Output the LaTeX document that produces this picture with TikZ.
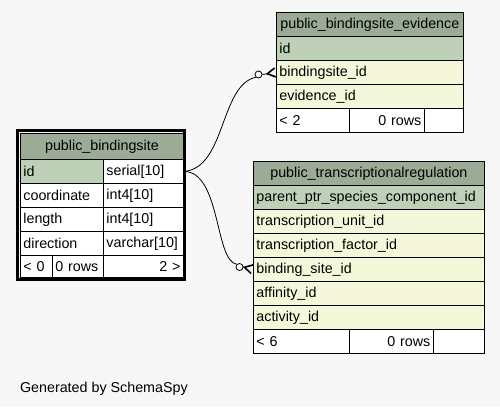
\documentclass[tikz,border=0pt]{standalone}
\usepackage{fontspec}
\setmainfont{Liberation Sans}
\usetikzlibrary{arrows.meta, positioning}

\definecolor{bggrey}{HTML}{F7F7F7}
\definecolor{hdrgreen}{HTML}{9BAB96}
\definecolor{pkgreen}{HTML}{BED1B8}
\definecolor{colyellow}{HTML}{F4F7DA}

\begin{document}
\begin{tikzpicture}[x=1pt, y=-1pt, font=\fontsize{14.3}{16}\selectfont,
    cell/.style={draw=black, line width=0.8pt, rectangle, anchor=north west,
        inner xsep=3pt, inner ysep=0pt, minimum height=24pt, align=left},
    hdr/.style={cell, fill=hdrgreen, align=center},
    pk/.style={cell, fill=pkgreen},
    col/.style={cell, fill=colyellow},
    plain/.style={cell, fill=white},
    ring/.style={circle, draw=black, fill=white, line width=0.8pt, inner sep=0pt, minimum size=7pt},
    rel/.style={draw=black, line width=0.8pt},
    crow/.style={-{Straight Barb[reversed, length=8pt, width=9pt, line width=1.6pt]}}]

    \useasboundingbox (0,0) rectangle (500,407);
    \fill[bggrey] (0,0) rectangle (500,407);

    % public_bindingsite
    \node[hdr, minimum height=26pt, text width=157pt] (bs-hdr) at (20,133) {public\_bindingsite};
    \node[pk, text width=77pt] (bs-id) at (20,159) {id};
    \node[plain, text width=74pt] (bs-idt) at (103,159) {serial[10]};
    \node[plain, text width=77pt] (bs-coord) at (20,183) {coordinate};
    \node[plain, text width=74pt] (bs-coordt) at (103,183) {int4[10]};
    \node[plain, text width=77pt] (bs-len) at (20,207) {length};
    \node[plain, text width=74pt] (bs-lent) at (103,207) {int4[10]};
    \node[plain, text width=77pt] (bs-dir) at (20,231) {direction};
    \node[plain, text width=74pt] (bs-dirt) at (103,231) {varchar[10]};
    \node[plain, minimum height=22pt, text width=26pt] (bs-f1) at (20,255) {< 0};
    \node[plain, minimum height=22pt, text width=45pt] (bs-f2) at (52,255) {0 rows};
    \node[plain, minimum height=22pt, text width=74pt, align=right] (bs-f3) at (103,255) {2 >};
    \draw[line width=3pt] (17.5,130.5) rectangle (184.5,279.5);

    % public_bindingsite_evidence
    \node[hdr, text width=181pt] (bse-hdr) at (276,12) {public\_bindingsite\_evidence};
    \node[pk, text width=181pt] (bse-id) at (276,36) {id};
    \node[col, text width=181pt] (bse-bsid) at (276,60) {bindingsite\_id};
    \node[col, text width=181pt] (bse-evid) at (276,84) {evidence\_id};
    \node[plain, text width=67pt] (bse-f1) at (276,108) {< 2};
    \node[plain, text width=69pt, align=right] (bse-f2) at (349,108) {0 rows};
    \node[plain, text width=33pt] (bse-f3) at (424,108) {};

    % public_transcriptionalregulation
    \node[hdr, text width=225pt] (tr-hdr) at (253,161) {public\_transcriptionalregulation};
    \node[pk, text width=225pt] (tr-parent) at (253,185) {parent\_ptr\_species\_component\_id};
    \node[col, text width=225pt] (tr-unit) at (253,209) {transcription\_unit\_id};
    \node[col, text width=225pt] (tr-factor) at (253,233) {transcription\_factor\_id};
    \node[col, text width=225pt] (tr-bsid) at (253,257) {binding\_site\_id};
    \node[col, text width=225pt] (tr-aff) at (253,281) {affinity\_id};
    \node[col, text width=225pt] (tr-act) at (253,305) {activity\_id};
    \node[plain, text width=90pt] (tr-f1) at (253,329) {< 6};
    \node[plain, text width=78pt, align=right] (tr-f2) at (349,329) {0 rows};
    \node[plain, text width=45pt] (tr-f3) at (433,329) {};

    % relations
    \node[ring] (bse-o) at (258.5,74.5) {};
    \node[ring] (tr-o) at (239.5,267) {};
    \draw[rel] (bs-idt.east) .. controls +(42,-3) and +(-36,8) .. (bse-o.south west);
    \draw[rel] (bs-idt.east) .. controls +(37,0) and +(-22,-3) .. (tr-o.north west);
    \draw[rel, crow] (bse-o.east) -- (bse-bsid.west);
    \draw[rel, crow] (tr-o.east) -- (tr-bsid.west);

    \node[anchor=base west] (gen) at (16.5,392) {Generated by SchemaSpy};
\end{tikzpicture}
\end{document}
